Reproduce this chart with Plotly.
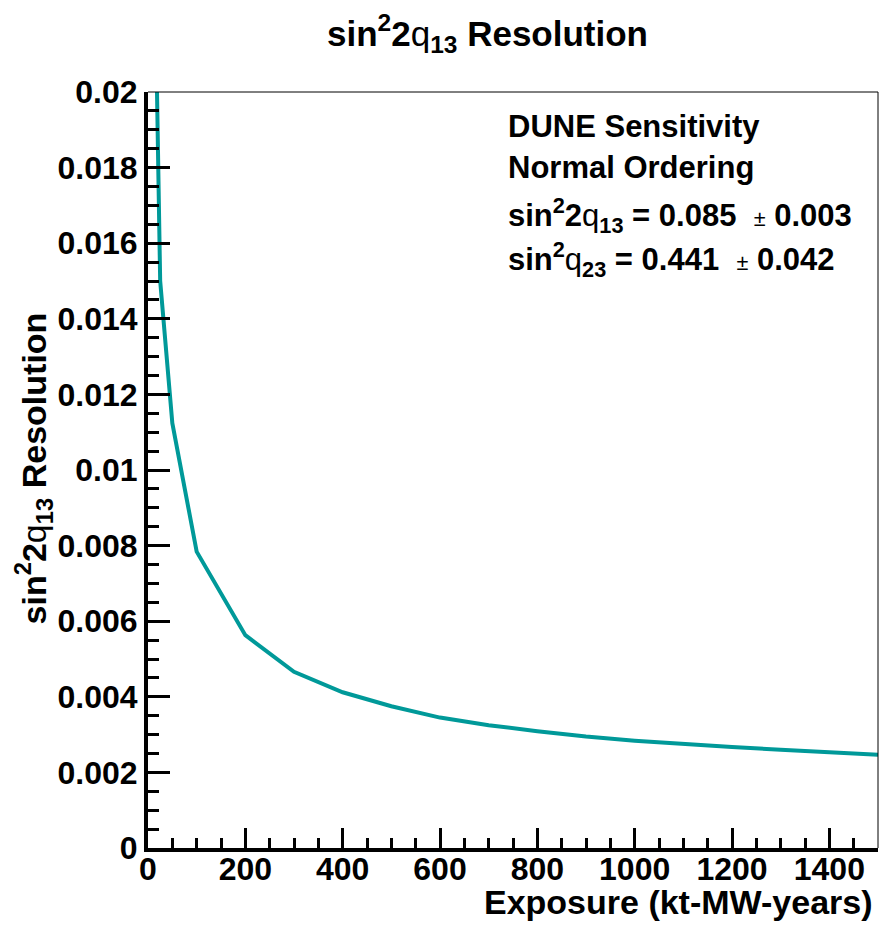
import plotly.graph_objects as go

# Data
exposure = [10, 25, 50, 100, 200, 300, 400, 500, 600, 700, 800, 900, 1000,
            1100, 1200, 1300, 1400, 1500]
resolution = [0.0265, 0.0150, 0.01124, 0.00784, 0.00563, 0.00466, 0.00412,
              0.00375, 0.00345, 0.00325, 0.00309, 0.00295, 0.00284, 0.00275,
              0.00267, 0.00260, 0.00254, 0.00247]

x_ticks = [0, 200, 400, 600, 800, 1000, 1200, 1400]
y_ticks = [0, 0.002, 0.004, 0.006, 0.008, 0.01, 0.012, 0.014, 0.016, 0.018, 0.02]
y_tick_labels = ["0", "0.002", "0.004", "0.006", "0.008", "0.01", "0.012",
                 "0.014", "0.016", "0.018", "0.02"]

FONT = "Liberation Sans, Arial, Helvetica, sans-serif"
Q = '<span style="font-weight:normal">q</span>'
PM = '<span style="font-weight:normal;font-size:70%">±</span>'

fig = go.Figure()
fig.add_trace(go.Scatter(
    x=exposure, y=resolution, mode="lines",
    line=dict(color="#009999", width=4), showlegend=False,
    cliponaxis=True,
))

axis_common = dict(
    showgrid=False, zeroline=False, showline=True, linecolor="black",
    linewidth=4, ticks="inside", tickcolor="black", tickwidth=3,
    tickfont=dict(family=FONT, size=32, color="black", weight="bold"),
)

fig.update_xaxes(
    range=[0, 1500], tickvals=x_ticks, ticklen=20, ticklabelstandoff=-10,
    minor=dict(ticks="inside", ticklen=10, tickwidth=3, dtick=50, tickcolor="black"),
    **axis_common,
)
fig.update_yaxes(
    range=[0, 0.02], tickvals=y_ticks, ticktext=y_tick_labels, ticklen=22,
    minor=dict(ticks="inside", ticklen=11, tickwidth=3, dtick=0.0005, tickcolor="black"),
    **axis_common,
)

# thin frame on top and right
fig.add_shape(type="line", xref="paper", yref="paper", x0=0, x1=1, y0=1, y1=1,
              line=dict(color="black", width=1))
fig.add_shape(type="line", xref="paper", yref="paper", x0=1, x1=1, y0=0, y1=1,
              line=dict(color="black", width=1))

def ann(text, x, y, size, xanchor="left", yanchor="middle", angle=0):
    fig.add_annotation(text=text, xref="paper", yref="paper", x=x, y=y,
                       xanchor=xanchor, yanchor=yanchor, showarrow=False,
                       textangle=angle,
                       font=dict(family=FONT, size=size, color="black", weight="bold"))

ann(f"sin<sup>2</sup>2{Q}<sub>13</sub> Resolution", 0.465, 1.078, 35, xanchor="center")
ann(f"sin<sup>2</sup>2{Q}<sub>13</sub> Resolution", -0.157, 0.5026, 34,
    xanchor="center", angle=-90)
ann("Exposure (kt-MW-years)", 0.996, -0.071, 34, xanchor="right")

ann("DUNE Sensitivity", 0.49, 0.955, 31)
ann("Normal Ordering", 0.49, 0.9, 31)
ann(f"sin<sup>2</sup>2{Q}<sub>13</sub> = 0.085  {PM} 0.003", 0.49, 0.836, 31)
ann(f"sin<sup>2</sup>{Q}<sub>23</sub> = 0.441  {PM} 0.042", 0.49, 0.779, 31)

fig.update_layout(
    width=890, height=925,
    margin=dict(l=148, r=12, t=92, b=77),
    paper_bgcolor="white", plot_bgcolor="white",
)

fig.write_html("out.html")
